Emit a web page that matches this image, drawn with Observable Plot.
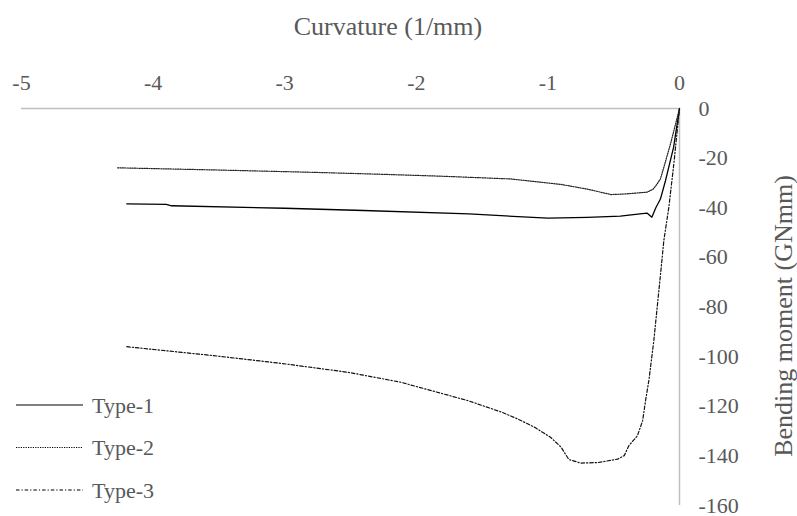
<!DOCTYPE html>
<html>
<head>
<meta charset="utf-8">
<script src="https://cdn.jsdelivr.net/npm/d3@7"></script>
<script src="https://cdn.jsdelivr.net/npm/@observablehq/plot@0.6"></script>
<style>
  html, body { margin: 0; padding: 0; background: #fff; }
  #chart { width: 797px; height: 516px; }
  #chart svg, #chart svg text { font-family: "Liberation Serif", "DejaVu Serif", serif !important; }
</style>
</head>
<body>
<div id="chart"></div>
<script>
const xTicks = [-5, -4, -3, -2, -1, 0];
const yTicks = [-160, -140, -120, -100, -80, -60, -40, -20, 0];
const seriesNames = ["Type-1", "Type-2", "Type-3"];

const type1X = [-4.2, -3.9, -3.86, -3.0, -2.4, -1.6, -1.0, -0.7, -0.45, -0.3, -0.245, -0.21, -0.18, -0.145, -0.106, -0.045, 0];
const type1Y = [-38.4, -38.6, -39.2, -40.2, -41.1, -42.5, -44.2, -43.9, -43.4, -42.5, -42.2, -43.8, -40, -36.5, -29, -15.7, 0];

const type2X = [-4.27, -3.5, -2.8, -2.27, -1.8, -1.28, -0.9, -0.7, -0.52, -0.4, -0.245, -0.2, -0.17, -0.145, -0.119, -0.068, 0];
const type2Y = [-23.9, -24.8, -25.7, -26.5, -27.3, -28.4, -30.6, -32.5, -34.7, -34.4, -33.7, -32.5, -30.4, -28.4, -23.7, -14.2, 0];

const type3X = [-4.2, -3.54, -3.03, -2.52, -2.12, -1.61, -1.35, -1.23, -1.1, -0.98, -0.9, -0.84, -0.75, -0.62, -0.47, -0.42, -0.385, -0.32, -0.28, -0.258, -0.233, -0.195, -0.144, -0.119, -0.081, -0.043, 0];
const type3Y = [-96, -99.6, -102.7, -106.3, -110.3, -117.7, -122.4, -125.1, -128.5, -132.5, -136.5, -141.5, -142.9, -142.7, -141.3, -139.9, -135.9, -131.9, -125.8, -117.7, -109.7, -93.5, -66.7, -53.2, -39.8, -22.3, 0];

const dashes = { "Type-1": null, "Type-2": "1.2 1.2", "Type-3": "3.5 2 1.2 2" };

const toRows = (name, xs, ys) => xs.map((x, i) => ({ series: name, x, y: ys[i] }));
const rows1 = toRows("Type-1", type1X, type1Y);
const rows2 = toRows("Type-2", type2X, type2Y);
const rows3 = toRows("Type-3", type3X, type3Y);

const FONT = '"Liberation Serif", "DejaVu Serif", serif';
const TEXT = "#595959";
const AXIS = "#bfbfbf";

const W = 797, H = 516;
const plot = Plot.plot({
  width: W,
  height: H,
  marginLeft: 21,
  marginRight: 118,
  marginTop: 108,
  marginBottom: 11,
  style: { fontFamily: FONT, fontSize: "22px", color: TEXT, background: "white", overflow: "visible" },
  x: { domain: [-5, 0], label: null },
  y: { domain: [-160, 0], label: null },
  marks: [
    Plot.axisX({ anchor: "top", ticks: xTicks, tickSize: 0, tickPadding: 19, label: null, tickFormat: d => String(d), fill: TEXT, fontSize: 22 }),
    Plot.axisY({ anchor: "right", ticks: yTicks, tickSize: 0, tickPadding: 19, label: null, tickFormat: d => String(d), fill: TEXT, fontSize: 22 }),
    Plot.ruleY([0], { stroke: AXIS, strokeWidth: 1.5 }),
    Plot.ruleX([0], { stroke: AXIS, strokeWidth: 1.5 }),
    Plot.line(rows1, { x: "x", y: "y", stroke: "#000", strokeWidth: 1.3 }),
    Plot.line(rows2, { x: "x", y: "y", stroke: "#222", strokeWidth: 1.2, strokeDasharray: dashes["Type-2"] }),
    Plot.line(rows3, { x: "x", y: "y", stroke: "#111", strokeWidth: 1.2, strokeDasharray: dashes["Type-3"] })
  ]
});

const svg = d3.select(plot);
// Axis titles
svg.append("text")
  .attr("x", 388).attr("y", 35)
  .attr("text-anchor", "middle")
  .attr("font-family", FONT).attr("font-size", 26).attr("fill", TEXT)
  .text("Curvature (1/mm)");
svg.append("text")
  .attr("transform", "translate(783,316) rotate(-90)")
  .attr("text-anchor", "middle").attr("dominant-baseline", "central")
  .attr("font-family", FONT).attr("font-size", 26).attr("fill", TEXT)
  .text("Bending moment (GNmm)");

// Legend
const legend = svg.append("g");
seriesNames.forEach((name, i) => {
  const cy = 405 + i * 42.5;
  legend.append("line")
    .attr("x1", 16).attr("x2", 83).attr("y1", cy).attr("y2", cy)
    .attr("stroke", "#000").attr("stroke-width", 1.2)
    .attr("stroke-dasharray", dashes[name]);
  legend.append("text")
    .attr("x", 92).attr("y", cy)
    .attr("text-anchor", "start")
    .attr("dominant-baseline", "central")
    .attr("font-family", FONT).attr("font-size", 22).attr("fill", TEXT)
    .text(name);
});

document.getElementById("chart").appendChild(plot);
</script>
</body>
</html>
